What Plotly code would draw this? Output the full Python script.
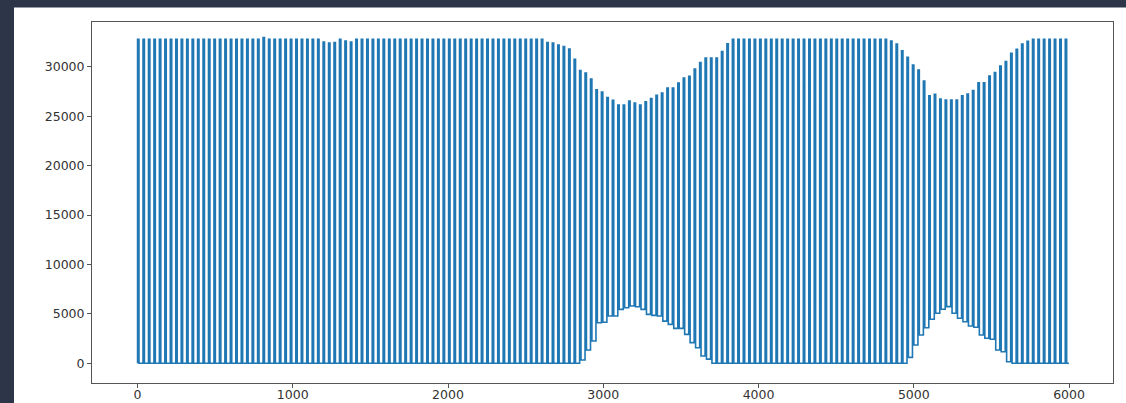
import plotly.graph_objects as go

# ---- data (per oscillation cycle) ----
n_cycles = 171
first_center = 5.0      # sample index of first pulse
last_center = 5980.0    # sample index of last pulse
pulse_width = 9.0       # samples the signal stays high

high_start = [32767] * 23 + [32950] + [32767] * 10
high_notch = [32500, 32400, 32450, 32767, 32600, 32500, 32767, 32767, 32767, 32767]
high_mid1 = [32767] * 30
high_dip1 = [32767, 32450, 32400, 32200, 32050, 31780, 30760, 29620, 29350, 28750,
             27670, 27440, 26870, 26600, 26120, 26120, 26530, 26330, 26120, 26460,
             26770, 27100, 27340, 27840, 27840, 28350, 28850, 29020, 29760, 30430,
             30870, 30870, 30870, 31540, 32320, 32767]
high_mid2 = [32767] * 26
high_dip2 = [32767, 32767, 32600, 32300, 31620, 30950, 30170, 29670, 28550, 27070,
             27210, 26730, 26630, 26630, 26630, 27070, 27240, 27580, 28380, 28380,
             29050, 29420, 30070, 30510, 31350, 31760, 32300, 32560,
             32767, 32767, 32767, 32767, 32767, 32767, 32767]
highs = high_start + high_notch + high_mid1 + high_dip1 + high_mid2 + high_dip2

low_start = [0] * 81
low_hump1 = [340, 1350, 2250, 4100, 4150, 4780, 4780, 5450, 5620, 5790, 5720, 5450,
             4950, 4850, 4780, 4270, 3940, 3530, 3530, 2930, 2090, 1580, 740, 420]
low_mid = [0] * 36
low_hump2 = [600, 1850, 2860, 3600, 4450, 5060, 5460, 5730, 5060, 4550, 4210, 3770,
             3640, 2860, 2530, 2430, 1350, 1170, 160]
low_end = [0] * 11
lows = low_start + low_hump1 + low_mid + low_hump2 + low_end

x_ticks = [0, 1000, 2000, 3000, 4000, 5000, 6000]
x_tick_text = ["0", "1000", "2000", "3000", "4000", "5000", "6000"]
y_ticks = [0, 5000, 10000, 15000, 20000, 25000, 30000]
y_tick_text = ["0", "5000", "10000", "15000", "20000", "25000", "30000"]

# ---- build the waveform ----
step = (last_center - first_center) / (n_cycles - 1)
xs, ys = [], []
prev_low = lows[0]
for i in range(n_cycles):
    c = first_center + i * step
    xs += [c - pulse_width / 2, c - pulse_width / 2, c + pulse_width / 2, c + pulse_width / 2]
    ys += [prev_low, highs[i], highs[i], lows[i]]
    prev_low = lows[i]
xs.append(5999)
ys.append(lows[-1])

fig = go.Figure()
fig.add_trace(go.Scatter(x=xs, y=ys, mode="lines",
                         line=dict(color="#1f77b4", width=1.6), showlegend=False,
                         hoverinfo="skip"))

axis_common = dict(showline=True, mirror=True, linecolor="#555555", linewidth=1,
                   ticks="outside", ticklen=4, tickcolor="#555555", tickwidth=1,
                   showgrid=False, zeroline=False, automargin=False,
                   tickfont=dict(family="DejaVu Sans", size=12.5, color="#333333"))

fig.update_layout(
    template="none",
    width=1126, height=403,
    margin=dict(l=92, r=13, t=22, b=20, pad=0),
    paper_bgcolor="#2c3648",
    plot_bgcolor="white",
    xaxis=dict(range=[-293, 6283], tickvals=x_ticks, ticktext=x_tick_text,
               ticklabelstandoff=-4, **axis_common),
    yaxis=dict(range=[-1993, 34523], tickvals=y_ticks, ticktext=y_tick_text, **axis_common),
    shapes=[dict(type="rect", xref="paper", yref="paper",
                 x0=-0.0764, x1=1.1, y0=-0.2, y1=1.040,
                 fillcolor="white", line=dict(width=0), layer="below")],
)

fig.write_html("out.html",
               config={"displayModeBar": False},
               post_script="document.body.style.margin='0';document.body.style.overflow='hidden';")
